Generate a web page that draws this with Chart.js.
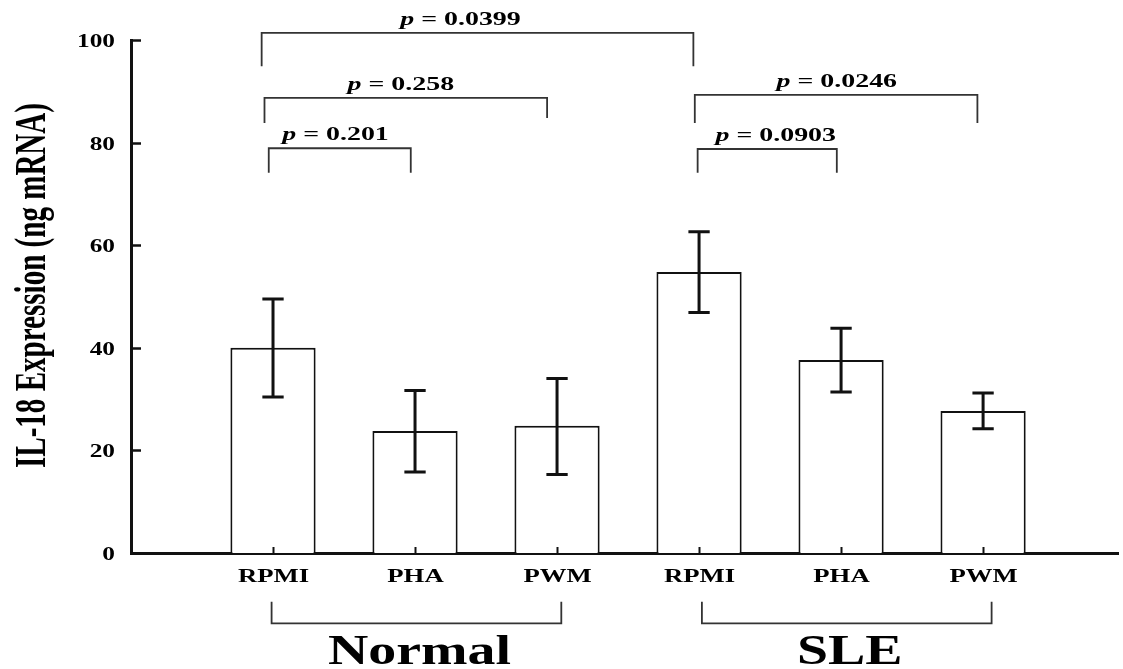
<!DOCTYPE html>
<html>
<head>
<meta charset="utf-8">
<script src="https://cdn.jsdelivr.net/npm/chart.js@4.4.1/dist/chart.umd.min.js"></script>
<style>
  html, body { margin: 0; padding: 0; background: #fff; }
</style>
</head>
<body>
<canvas id="chart" width="1123" height="669"></canvas>
<script>
// Категории и значения
const categories = ["RPMI", "PHA", "PWM", "RPMI", "PHA", "PWM"];
const means = [40.0, 23.8, 24.8, 54.8, 37.6, 27.7];
const errLow = [30.4, 15.8, 15.3, 46.9, 31.4, 24.2];
const errHigh = [49.5, 31.7, 34.0, 62.6, 43.8, 31.2];
const yTicks = [0, 20, 40, 60, 80, 100];
const yTitle = "IL-18 Expression (ng mRNA)";

// Группы под осью
const groups = ["Normal", "SLE"];
const groupFrom = [0.99, 4.02];
const groupTo = [3.03, 6.06];
const groupTopY = -9.5;
const groupBottomY = -13.7;

// Скобки сравнения (p-значения)
const pValues = ["0.0399", "0.258", "0.201", "0.0246", "0.0903"];
const bracketFrom = [0.92, 0.94, 0.97, 3.97, 3.99];
const bracketTo = [3.96, 2.93, 1.97, 5.96, 4.97];
const bracketTop = [101.4, 88.7, 78.9, 89.3, 78.75];
const bracketLeftEnd = [94.9, 83.8, 74.1, 83.8, 74.1];
const bracketRightEnd = [94.9, 84.8, 74.1, 83.8, 74.1];
const pLabelX = [2.32, 1.9, 1.44, 4.97, 4.54];

const CAP = 0.075; // полуширина засечки (в единицах оси x)
const SERIF = "'Liberation Serif', 'Times New Roman', serif";

// Точки для линий погрешностей
const errPoints = [];
means.forEach((m, i) => {
  const x = i + 1;
  errPoints.push({ x: x - CAP, y: errHigh[i] }, { x: x + CAP, y: errHigh[i] }, { x: x, y: null });
  errPoints.push({ x: x, y: errHigh[i] }, { x: x, y: errLow[i] }, { x: x, y: null });
  errPoints.push({ x: x - CAP, y: errLow[i] }, { x: x + CAP, y: errLow[i] }, { x: x, y: null });
});

// Скобки над столбцами
const bracketPoints = [];
pValues.forEach((p, i) => {
  bracketPoints.push(
    { x: bracketFrom[i], y: bracketLeftEnd[i] },
    { x: bracketFrom[i], y: bracketTop[i] },
    { x: bracketTo[i], y: bracketTop[i] },
    { x: bracketTo[i], y: bracketRightEnd[i] },
    { x: bracketTo[i], y: null }
  );
});

// Скобки групп под осью
const groupPoints = [];
groups.forEach((g, i) => {
  groupPoints.push(
    { x: groupFrom[i], y: groupTopY },
    { x: groupFrom[i], y: groupBottomY },
    { x: groupTo[i], y: groupBottomY },
    { x: groupTo[i], y: groupTopY },
    { x: groupTo[i], y: null }
  );
});

// Растянутый текст (в оригинале картинка растянута по горизонтали)
function drawText(ctx, text, x, y, font, sx, align) {
  ctx.save();
  ctx.translate(x, y);
  ctx.scale(sx, 1);
  ctx.font = font;
  ctx.textAlign = align;
  ctx.textBaseline = "alphabetic";
  ctx.fillText(text, 0, 0);
  ctx.restore();
}

const labelsPlugin = {
  id: "labels",
  afterDraw(chart) {
    const ctx = chart.ctx;
    const xs = chart.scales.x;
    const ys = chart.scales.y;
    const area = chart.chartArea;
    ctx.save();
    ctx.fillStyle = "#000";
    ctx.strokeStyle = "#111";

    // Засечки оси y (внутрь) и подписи
    ctx.lineWidth = 2.5;
    yTicks.forEach((v) => {
      const y = Math.round(ys.getPixelForValue(v)) + 0.5;
      ctx.beginPath();
      ctx.moveTo(area.left, y);
      ctx.lineTo(area.left + 10, y);
      ctx.stroke();
      drawText(ctx, String(v), area.left - 16, y + 6.5, "bold 19.5px " + SERIF, 1.3, "right");
    });

    // Засечки оси x и подписи категорий
    ctx.lineWidth = 2;
    categories.forEach((c, i) => {
      const x = Math.round(xs.getPixelForValue(i + 1)) + 0.5;
      ctx.beginPath();
      ctx.moveTo(x, area.bottom);
      ctx.lineTo(x, area.bottom - 6);
      ctx.stroke();
      drawText(ctx, c, x, area.bottom + 29, "bold 19.5px " + SERIF, 1.37, "center");
    });

    // Названия групп
    groups.forEach((g, i) => {
      const x = xs.getPixelForValue((groupFrom[i] + groupTo[i]) / 2);
      drawText(ctx, g, x + 3, area.bottom + 111, "bold 42px " + SERIF, 1.33, "center");
    });

    // p-значения
    pValues.forEach((p, i) => {
      const cx = xs.getPixelForValue(pLabelX[i]);
      const y = ys.getPixelForValue(bracketTop[i]) - 8;
      const sx = 1.55;
      const fItal = "italic bold 18px " + SERIF;
      const fBold = "bold 18px " + SERIF;
      ctx.font = fItal;
      const w1 = ctx.measureText("p").width;
      ctx.font = fBold;
      const rest = " = " + p;
      const w2 = ctx.measureText(rest).width;
      const left = cx - ((w1 + w2) * sx) / 2;
      drawText(ctx, "p", left, y, fItal, sx, "left");
      drawText(ctx, rest, left + w1 * sx, y, fBold, sx, "left");
    });

    // Заголовок оси y (сжат вдоль строки)
    const cy = (area.top + area.bottom) / 2 - 11;
    ctx.font = "bold 44px " + SERIF;
    const tw = ctx.measureText(yTitle).width;
    ctx.translate(45, cy);
    ctx.rotate(-Math.PI / 2);
    ctx.scale(365 / tw, 1);
    ctx.textAlign = "center";
    ctx.textBaseline = "alphabetic";
    ctx.fillText(yTitle, 0, 0);
    ctx.restore();
  },
};

const ctx = document.getElementById("chart").getContext("2d");
const chart = new Chart(ctx, {
  type: "bar",
  data: {
    datasets: [
      {
        type: "bar",
        data: means.map((m, i) => ({ x: i + 1, y: m })),
        backgroundColor: "#fff",
        borderColor: "#111",
        borderWidth: 2,
        barPercentage: 0.6,
        categoryPercentage: 1,
        order: 2,
      },
      {
        type: "line",
        data: errPoints,
        borderColor: "#111",
        borderWidth: 3,
        pointRadius: 0,
        spanGaps: false,
        tension: 0,
        order: 1,
      },
      {
        type: "line",
        data: bracketPoints,
        borderColor: "#333",
        borderWidth: 1.8,
        pointRadius: 0,
        spanGaps: false,
        tension: 0,
        clip: false,
        order: 1,
      },
      {
        type: "line",
        data: groupPoints,
        borderColor: "#333",
        borderWidth: 1.8,
        pointRadius: 0,
        spanGaps: false,
        tension: 0,
        clip: false,
        order: 1,
      },
    ],
  },
  options: {
    responsive: false,
    animation: false,
    events: [],
    layout: { padding: { left: 131, right: 5, top: 40, bottom: 116 } },
    plugins: { legend: { display: false }, tooltip: { enabled: false } },
    scales: {
      x: {
        type: "linear",
        offset: false,
        min: 0,
        max: 6.95,
        // тики только в центрах столбцов, чтобы ширина столбцов считалась от шага 1
        afterBuildTicks: (scale) => {
          scale.ticks = categories.map((c, i) => ({ value: i + 1 }));
        },
        grid: { display: false, drawTicks: false, offset: false },
        ticks: { display: false },
        border: { display: true, width: 3, color: "#111" },
      },
      y: {
        min: 0,
        max: 100,
        grid: { display: false, drawTicks: false },
        ticks: { display: false },
        border: { display: true, width: 3, color: "#111" },
      },
    },
  },
  plugins: [labelsPlugin],
});
</script>
</body>
</html>
